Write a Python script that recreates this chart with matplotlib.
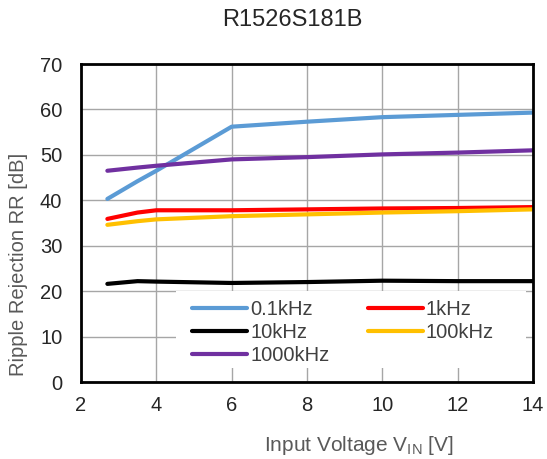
import matplotlib
matplotlib.use("Agg")
import matplotlib.pyplot as plt
from matplotlib.patches import Rectangle

plt.rcParams['font.family'] = ['Liberation Sans', 'DejaVu Sans']
plt.rcParams['mathtext.fontset'] = 'custom'
plt.rcParams['mathtext.rm'] = 'Liberation Sans'

W, H = 547, 459

# input voltage points
vin = [2.7, 3.5, 4, 6, 8, 10, 12, 14]

rr_01k = [40.3, 44.2, 46.5, 56.2, 57.3, 58.3, 58.8, 59.3]
rr_1k = [35.9, 37.3, 37.8, 37.8, 38.0, 38.2, 38.3, 38.5]
rr_10k = [21.6, 22.2, 22.1, 21.8, 22.0, 22.3, 22.2, 22.2]
rr_100k = [34.6, 35.4, 35.8, 36.5, 36.9, 37.3, 37.6, 38.0]
rr_1000k = [46.5, 47.2, 47.6, 49.0, 49.5, 50.1, 50.5, 51.0]

labels = ['0.1kHz', '1kHz', '10kHz', '100kHz', '1000kHz']
colors = ['#5B9BD5', '#FF0000', '#000000', '#FFC000', '#7030A0']
series = [rr_01k, rr_1k, rr_10k, rr_100k, rr_1000k]

fig = plt.figure(figsize=(W/100, H/100), dpi=100)
ax = fig.add_axes([81/W, 1-382/H, 452/W, 318/H])

lines = []
for s, c, l in zip(series, colors, labels):
    ln, = ax.plot(vin, s, color=c, lw=3.0, label=l, solid_capstyle='round', zorder=3)
    lines.append(ln)

ax.set_xlim(2, 14)
ax.set_ylim(0, 70)
ax.set_xticks(range(2, 15, 2))
ax.set_yticks(range(0, 71, 10))
ax.grid(True, color='#A6A6A6', lw=1.0)
ax.set_axisbelow(True)
for sp in ax.spines.values():
    sp.set_linewidth(2)
    sp.set_color('black')
    sp.set_zorder(4)
ax.tick_params(length=0, labelsize=14.5, colors='#262626')
ax.tick_params(axis='y', pad=13.5)
ax.tick_params(axis='x', pad=10)

# white legend area (covers the grid)
ax.add_patch(Rectangle((176/W, 1-368/H), 350/W, 77/H, transform=fig.transFigure,
                       facecolor='white', edgecolor='none', zorder=1.5))

fig.text(292.5/W, 1-26/H, 'R1526S181B', fontsize=17, color='#262626',
         ha='center', va='baseline')
fig.text(358.5/W, 1-451/H, r'Input Voltage V$_{\mathrm{IN}}$ [V]', fontsize=15,
         color='#595959', ha='center', va='baseline')
fig.text(18.5/W, 1-264.5/H, 'Ripple Rejection RR [dB]', fontsize=14.5,
         color='#595959', ha='center', va='center', rotation=90)

# row-major order like the original
order = [0, 2, 4, 1, 3]
leg = ax.legend([lines[i] for i in order], [labels[i] for i in order],
                ncol=2, loc='upper left', bbox_to_anchor=(192/W, 1-300/H),
                bbox_transform=fig.transFigure, frameon=False, fontsize=14.5,
                handlelength=2.74, handletextpad=0.15, columnspacing=1.9,
                labelspacing=0.2, borderpad=0, borderaxespad=0)
for t in leg.get_texts():
    t.set_color('#404040')
leg.set_zorder(5)

fig.savefig('out.png', dpi=100)
